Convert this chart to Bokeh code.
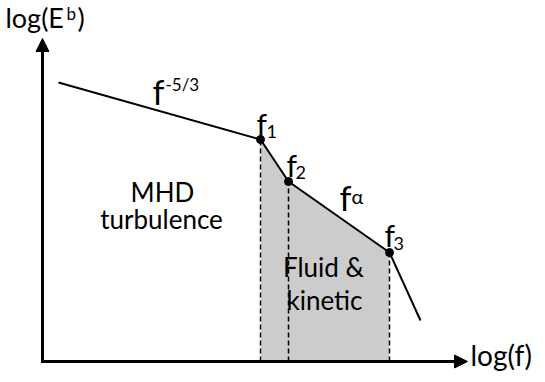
from bokeh.plotting import figure
from bokeh.models import Range1d, Arrow, NormalHead
from bokeh.core.properties import value
from bokeh.embed import file_html
from bokeh.resources import INLINE

# Schematic spectrum (arbitrary log units)
spec_logf = [58, 260, 288, 389, 420]
spec_logE = [292, 235, 193, 122, 54]
break_names = ["1", "2", "3"]
axis_origin = [42, 13]
axis_ends = [467, 336]

FONT = value("Lato")
W, H = 537, 374

p = figure(width=W, height=H, output_backend="svg", toolbar_location=None,
           x_range=Range1d(0, W), y_range=Range1d(0, H),
           min_border=0, outline_line_color=None)
p.axis.visible = False
p.grid.visible = False
p.background_fill_color = "white"
p.border_fill_color = "white"

bx = spec_logf[1:4]
by = spec_logE[1:4]
y0 = axis_origin[1]

# shaded region between f1 and f3
p.varea(x=bx, y1=[y0] * 3, y2=by, fill_color="#cccccc")

# dashed verticals
p.segment(x0=bx, y0=[y0] * 3, x1=bx, y1=by, line_color="black",
          line_width=1.5, line_dash="5 3")

# spectrum
p.line(spec_logf, spec_logE, line_color="black", line_width=2)
p.scatter(bx, by, size=8, color="black")

# axes with arrows
p.add_layout(Arrow(end=NormalHead(size=13, fill_color="black", line_color="black"),
                   x_start=axis_origin[0] - 1.5, y_start=y0, x_end=axis_ends[0], y_end=y0,
                   line_width=3, line_color="black"))
p.add_layout(Arrow(end=NormalHead(size=13, fill_color="black", line_color="black"),
                   x_start=axis_origin[0], y_start=y0 - 1.5, x_end=axis_origin[0], y_end=axis_ends[1],
                   line_width=3, line_color="black"))

def txt(x, y, s, size, align="left"):
    # baseline compensation for the svg text layout
    p.text(x=[x], y=[y + 0.4 * size], text=[s], text_font=FONT,
           text_font_size=f"{size}px", text_align=align,
           text_baseline="alphabetic", text_color="black")

# y-axis title
txt(5, 346, "log(E", 27)
txt(66, 354, "b", 17)
txt(77, 346, ")", 27)
# x-axis title
txt(470, 8, "log(f)", 28)

# slopes
txt(152, 269, "f", 34)
txt(165, 283, "-5/3", 17)
txt(339, 163, "f", 34)
txt(351, 171, "\u03b1", 20)

# break labels
sub_pos = [(256, 239, 266, 236), (286, 198, 295, 195), (384, 128, 393, 124)]
for (fx, fy, sx, sy), n in zip(sub_pos, break_names):
    txt(fx, fy, "f", 30)
    txt(sx, sy, n, 18)

# region labels
txt(162, 172, "MHD", 26, "center")
txt(161, 145, "turbulence", 26, "center")
txt(323, 97, "Fluid &", 26, "center")
txt(324, 64, "kinetic", 26, "center")

open("out.html", "w").write(file_html(p, INLINE))
